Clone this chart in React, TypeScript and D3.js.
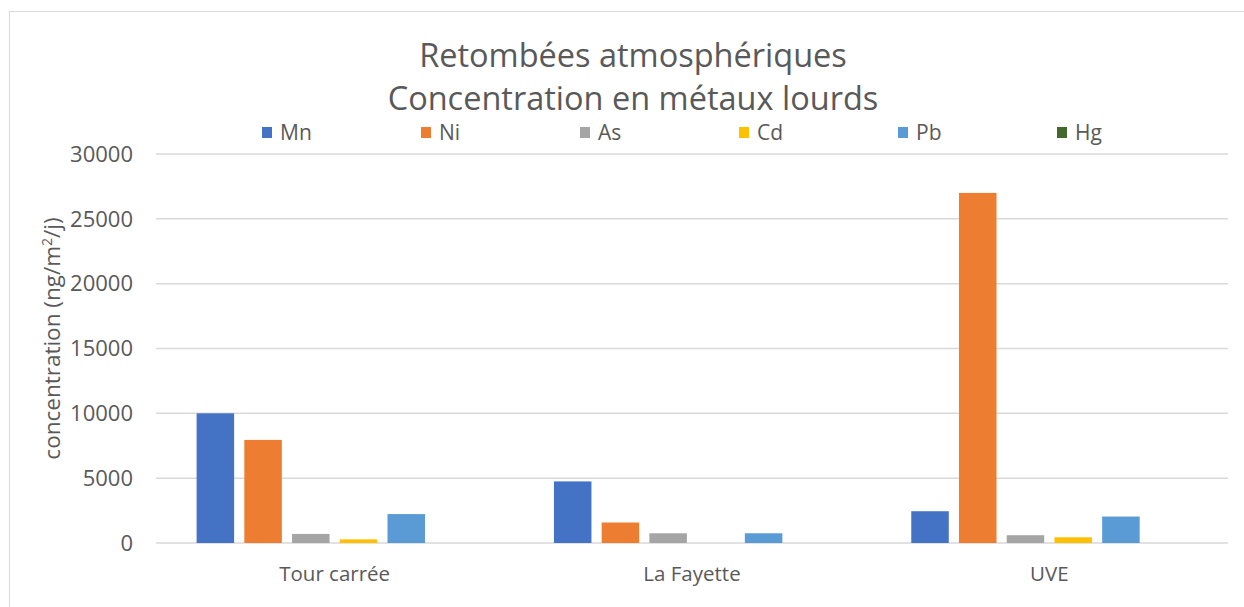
import React from "react";
import * as d3 from "d3";

const categories = ["Tour carrée", "La Fayette", "UVE"];
const seriesNames = ["Mn", "Ni", "As", "Cd", "Pb", "Hg"];
const seriesColors = ["#4472C4", "#ED7D31", "#A5A5A5", "#FFC000", "#5B9BD5", "#43682B"];
const mnValues = [10000, 4750, 2450];
const niValues = [7950, 1580, 27000];
const asValues = [700, 750, 600];
const cdValues = [280, 0, 440];
const pbValues = [2230, 750, 2040];
const hgValues = [0, 0, 0];
const yTicks = [0, 5000, 10000, 15000, 20000, 25000, 30000];

const seriesValues = [mnValues, niValues, asValues, cdValues, pbValues, hgValues];

const W = 1244;
const H = 607;
const plotLeft = 156;
const plotRight = 1228;
const plotTop = 154;
const plotBottom = 543;
const textColor = "#595959";
const font = "'Open Sans', 'Liberation Sans', sans-serif";

export default function App() {
  const x = d3.scaleBand<string>().domain(categories).range([plotLeft, plotRight]).padding(0);
  const bw = x.bandwidth();
  const inner = d3
    .scaleBand<string>()
    .domain(seriesNames)
    .range([40.6, bw - 40.6])
    .paddingInner(0.214)
    .paddingOuter(0);
  const y = d3.scaleLinear().domain([0, 30000]).range([plotBottom, plotTop]);

  const legendX = d3.scalePoint<string>().domain(seriesNames).range([262, 1057]);

  return (
    <svg
      width={W}
      height={H}
      style={{ position: "absolute", left: 0, top: 0, display: "block", background: "#fff" }}
      fontFamily={font}
    >
      <rect x={9.5} y={11.5} width={1250} height={620} fill="#fff" stroke="#D9D9D9" strokeWidth={1} />
      <text x={633} y={67} textAnchor="middle" fontSize={32.5} fill={textColor}>
        Retombées atmosphériques
      </text>
      <text x={633} y={110} textAnchor="middle" fontSize={32.5} fill={textColor}>
        Concentration en métaux lourds
      </text>

      {seriesNames.map((s, i) => (
        <g key={s}>
          <rect x={legendX(s)} y={127} width={10} height={11} fill={seriesColors[i]} />
          <text x={(legendX(s) as number) + 18} y={140} fontSize={21} fill={textColor}>
            {s}
          </text>
        </g>
      ))}

      {yTicks.map((t) => (
        <g key={t}>
          <line x1={plotLeft} x2={plotRight} y1={y(t)} y2={y(t)} stroke="#D9D9D9" strokeWidth={1.5} />
          <text x={133} y={y(t)} dy="0.35em" textAnchor="end" fontSize={22} fill={textColor}>
            {t}
          </text>
        </g>
      ))}

      <text
        transform={`translate(52, ${(plotTop + plotBottom) / 2 - 10}) rotate(-90)`}
        textAnchor="middle"
        dy="0.35em"
        fontSize={22.5}
        fill={textColor}
      >
        concentration (ng/m<tspan dy="-8" fontSize={14}>2</tspan>
        <tspan dy="8">/j)</tspan>
      </text>

      {categories.map((c, ci) => (
        <g key={c}>
          {seriesNames.map((s, si) => {
            const v = seriesValues[si][ci];
            const x0 = (x(c) as number) + (inner(s) as number);
            return (
              <rect
                key={s}
                x={x0}
                y={y(v)}
                width={inner.bandwidth()}
                height={plotBottom - y(v)}
                fill={seriesColors[si]}
              />
            );
          })}
          <text
            x={(x(c) as number) + bw / 2}
            y={574}
            dy="0.35em"
            textAnchor="middle"
            fontSize={20.5}
            fill={textColor}
          >
            {c}
          </text>
        </g>
      ))}
    </svg>
  );
}
